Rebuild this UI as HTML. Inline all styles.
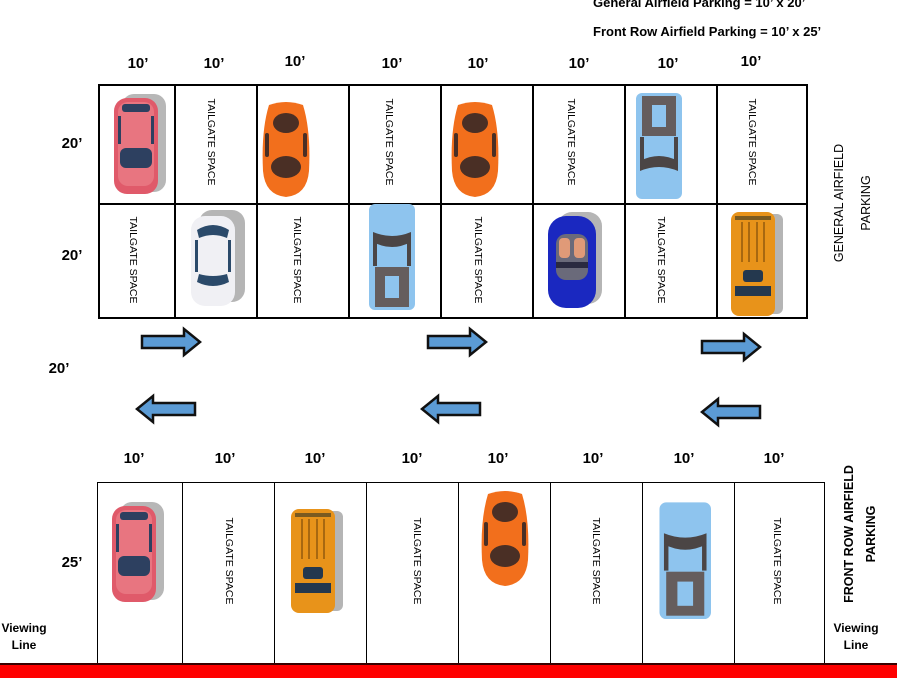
<!DOCTYPE html>
<html><head><meta charset="utf-8"><style>
html,body{margin:0;padding:0;background:#fff;}
svg{display:block;}
.d{font-family:"Liberation Sans",sans-serif;font-weight:bold;font-size:15px;fill:#000;text-anchor:middle;}
.t{font-family:"Liberation Sans",sans-serif;font-size:10.5px;fill:#000;text-anchor:middle;}
.s{font-family:"Liberation Sans",sans-serif;font-weight:bold;font-size:13px;fill:#000;}
.v{font-family:"Liberation Sans",sans-serif;font-size:12.5px;fill:#000;text-anchor:middle;}
.vb{font-family:"Liberation Sans",sans-serif;font-weight:bold;font-size:12px;fill:#000;text-anchor:middle;}
</style></head><body>
<svg width="897" height="678" viewBox="0 0 897 678" xmlns="http://www.w3.org/2000/svg">
<defs>
<g id="hatch">
<rect x="8" y="0" width="44" height="98" rx="12" fill="#b7b7b7"/>
<rect x="0" y="4" width="44" height="96" rx="13" fill="#e05a6a"/>
<rect x="4" y="8" width="36" height="84" rx="10" fill="#e87580"/>
<rect x="8" y="10" width="28" height="8" rx="3" fill="#2d4060"/>
<rect x="6" y="54" width="32" height="20" rx="6" fill="#2d4060"/>
<rect x="4" y="22" width="3" height="28" fill="#2d4060"/>
<rect x="37" y="22" width="3" height="28" fill="#2d4060"/>
</g>
<g id="sport">
<path d="M8 4 Q25 -2 42 4 Q50 30 48 70 Q46 94 25 96 Q4 94 2 70 Q0 30 8 4Z" fill="#f26f1c"/>
<ellipse cx="25" cy="22" rx="13" ry="10" fill="#4a2f25"/>
<ellipse cx="25" cy="66" rx="15" ry="11" fill="#4a2f25"/>
<rect x="4" y="32" width="4" height="24" rx="2" fill="#4a2f25"/>
<rect x="42" y="32" width="4" height="24" rx="2" fill="#4a2f25"/>
</g>
<g id="pickup">
<rect x="0" y="0" width="46" height="106" rx="6" fill="#8ec4ee"/>
<rect x="6" y="3" width="34" height="40" fill="#655d5d"/>
<rect x="16" y="12" width="14" height="22" fill="#8ec4ee"/>
<path d="M4 68 Q23 58 42 68 L42 78 Q23 70 4 78Z" fill="#4b4545"/>
<rect x="4" y="44" width="4" height="24" fill="#4b4545"/>
<rect x="38" y="44" width="4" height="24" fill="#4b4545"/>
</g>
<g id="white">
<rect x="8" y="0" width="46" height="92" rx="13" fill="#b5b5b5"/>
<rect x="0" y="6" width="44" height="90" rx="14" fill="#f0f0f4"/>
<path d="M6 20 Q22 10 38 20 L36 28 Q22 22 8 28Z" fill="#2b4a6a"/>
<path d="M6 72 Q22 80 38 72 L36 64 Q22 68 8 64Z" fill="#2b4a6a"/>
<rect x="4" y="30" width="3" height="32" fill="#2b4a6a"/>
<rect x="37" y="30" width="3" height="32" fill="#2b4a6a"/>
</g>
<g id="conv">
<rect x="10" y="0" width="44" height="92" rx="14" fill="#b5b5b5"/>
<rect x="0" y="4" width="48" height="92" rx="18" fill="#1a28c0"/>
<rect x="8" y="22" width="32" height="46" rx="10" fill="#6a6a7a"/>
<rect x="11" y="26" width="11" height="20" rx="4" fill="#e09a78"/>
<rect x="26" y="26" width="11" height="20" rx="4" fill="#e09a78"/>
<rect x="8" y="50" width="32" height="6" fill="#2a2a40"/>
</g>
<g id="suv">
<rect x="8" y="2" width="44" height="100" rx="6" fill="#b5b5b5"/>
<rect x="0" y="0" width="44" height="104" rx="8" fill="#e8931a"/>
<rect x="4" y="4" width="36" height="4" fill="#7a5a20"/>
<rect x="10" y="10" width="2" height="40" fill="#a86810"/>
<rect x="17" y="10" width="2" height="40" fill="#a86810"/>
<rect x="25" y="10" width="2" height="40" fill="#a86810"/>
<rect x="32" y="10" width="2" height="40" fill="#a86810"/>
<rect x="12" y="58" width="20" height="12" rx="3" fill="#24384e"/>
<rect x="4" y="74" width="36" height="10" fill="#24384e"/>
</g>
<g id="ar">
<path d="M0 -6 H42 V-13 L58 0 L42 13 V6 H0Z" fill="#5b9bd5" stroke="#111" stroke-width="2.5"/>
</g>
</defs>

<text class="s" x="593" y="7">General Airfield Parking = 10’ x 20’</text>
<text class="s" x="593" y="36">Front Row Airfield Parking = 10’ x 25’</text>

<g class="d">
<text x="138" y="68">10’</text><text x="214" y="68">10’</text><text x="295" y="66">10’</text><text x="392" y="68">10’</text>
<text x="478" y="68">10’</text><text x="579" y="68">10’</text><text x="668" y="68">10’</text><text x="751" y="66">10’</text>
<text x="72" y="148">20’</text><text x="72" y="260">20’</text><text x="59" y="373">20’</text>
<text x="134" y="463">10’</text><text x="225" y="463">10’</text><text x="315" y="463">10’</text><text x="412" y="463">10’</text>
<text x="498" y="463">10’</text><text x="593" y="463">10’</text><text x="684" y="463">10’</text><text x="774" y="463">10’</text>
<text x="72" y="567">25’</text>
</g>

<g stroke="#000" stroke-width="2" fill="none">
<rect x="99" y="85" width="708" height="233"/>
<line x1="99" y1="204" x2="807" y2="204"/>
<line x1="175" y1="85" x2="175" y2="318"/><line x1="257" y1="85" x2="257" y2="318"/>
<line x1="349" y1="85" x2="349" y2="318"/><line x1="441" y1="85" x2="441" y2="318"/>
<line x1="533" y1="85" x2="533" y2="318"/><line x1="625" y1="85" x2="625" y2="318"/>
<line x1="717" y1="85" x2="717" y2="318"/>
</g>

<use href="#hatch" transform="translate(114,94)"/>
<use href="#sport" transform="translate(261,101)"/>
<use href="#sport" transform="translate(450,101)"/>
<use href="#pickup" transform="translate(636,93)"/>
<use href="#white" transform="translate(191,210)"/>
<use href="#pickup" transform="translate(415,310) rotate(180)"/>
<use href="#conv" transform="translate(548,212)"/>
<use href="#suv" transform="translate(731,212)"/>

<g class="t">
<text transform="translate(212,142) rotate(90)" dy="4">TAILGATE SPACE</text>
<text transform="translate(390,142) rotate(90)" dy="4">TAILGATE SPACE</text>
<text transform="translate(572,142) rotate(90)" dy="4">TAILGATE SPACE</text>
<text transform="translate(753,142) rotate(90)" dy="4">TAILGATE SPACE</text>
<text transform="translate(134,260) rotate(90)" dy="4">TAILGATE SPACE</text>
<text transform="translate(298,260) rotate(90)" dy="4">TAILGATE SPACE</text>
<text transform="translate(479,260) rotate(90)" dy="4">TAILGATE SPACE</text>
<text transform="translate(662,260) rotate(90)" dy="4">TAILGATE SPACE</text>
<text transform="translate(230,561) rotate(90)" dy="4">TAILGATE SPACE</text>
<text transform="translate(418,561) rotate(90)" dy="4">TAILGATE SPACE</text>
<text transform="translate(597,561) rotate(90)" dy="4">TAILGATE SPACE</text>
<text transform="translate(778,561) rotate(90)" dy="4">TAILGATE SPACE</text>
</g>

<g class="v">
<text transform="translate(843,203) rotate(-90)">GENERAL AIRFIELD</text>
<text transform="translate(870,203) rotate(-90)">PARKING</text>
</g>
<g class="v" style="font-weight:bold">
<text transform="translate(853,534) rotate(-90)">FRONT ROW AIRFIELD</text>
<text transform="translate(875,534) rotate(-90)">PARKING</text>
</g>

<use href="#ar" transform="translate(142,342)"/>
<use href="#ar" transform="translate(428,342)"/>
<use href="#ar" transform="translate(702,347)"/>
<use href="#ar" transform="translate(195,409) scale(-1,1)"/>
<use href="#ar" transform="translate(480,409) scale(-1,1)"/>
<use href="#ar" transform="translate(760,412) scale(-1,1)"/>

<g stroke="#000" stroke-width="1" fill="none">
<line x1="97.5" y1="482.5" x2="824.5" y2="482.5"/>
<line x1="97.5" y1="482" x2="97.5" y2="664"/><line x1="182.5" y1="482" x2="182.5" y2="664"/>
<line x1="274.5" y1="482" x2="274.5" y2="664"/><line x1="366.5" y1="482" x2="366.5" y2="664"/>
<line x1="458.5" y1="482" x2="458.5" y2="664"/><line x1="550.5" y1="482" x2="550.5" y2="664"/>
<line x1="642.5" y1="482" x2="642.5" y2="664"/><line x1="734.5" y1="482" x2="734.5" y2="664"/>
<line x1="824.5" y1="482" x2="824.5" y2="664"/>
</g>
<use href="#hatch" transform="translate(112,502)"/>
<use href="#suv" transform="translate(291,509)"/>
<use href="#sport" transform="translate(480,490)"/>
<use href="#pickup" transform="translate(711,619) rotate(180) scale(1.12,1.1)"/>

<g class="vb">
<text x="24" y="632">Viewing</text><text x="24" y="649">Line</text>
<text x="856" y="632">Viewing</text><text x="856" y="649">Line</text>
</g>

<rect x="0" y="663" width="897" height="15" fill="#ff0000"/>
<rect x="0" y="663" width="897" height="2" fill="#3a0000"/>
</svg>
</body></html>
